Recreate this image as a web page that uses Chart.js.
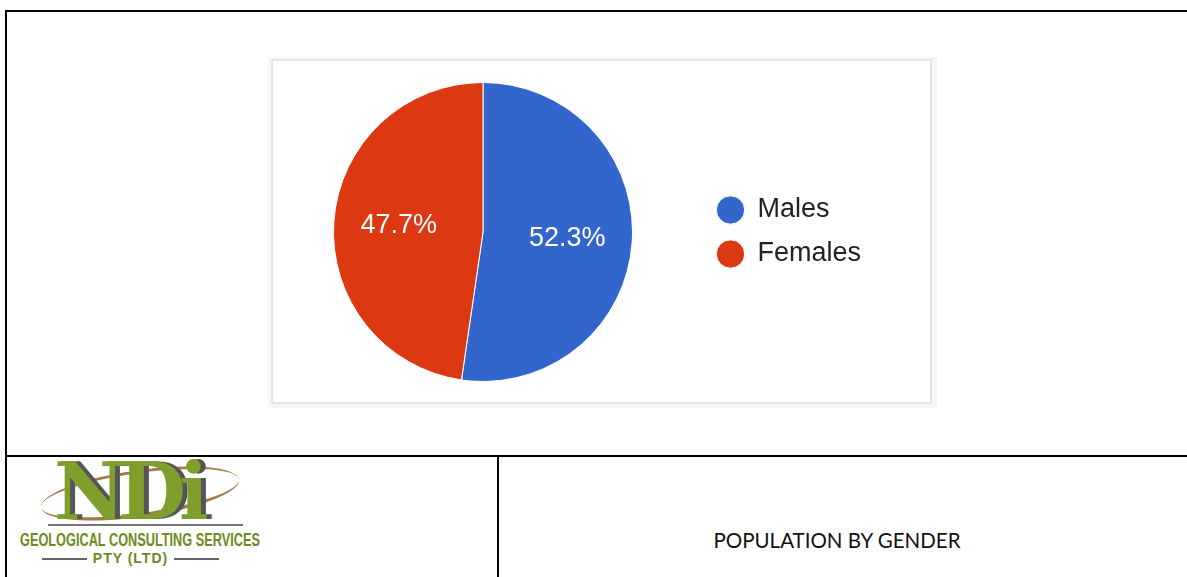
<!DOCTYPE html>
<html>
<head>
<meta charset="utf-8">
<title>Population by gender</title>
<script src="https://cdn.jsdelivr.net/npm/chart.js@4.4.1/dist/chart.umd.min.js"></script>
<style>
  body { margin: 0; background: #fff; width: 1187px; height: 577px; overflow: hidden; position: relative; }
  .line { position: absolute; background: #000; }
  #shade { position: absolute; left: 268px; top: 57px; width: 669px; height: 351px; background: #f6f6f6; }
  #frame { position: absolute; left: 271px; top: 59px; width: 657px; height: 341px; background: #fff; border: 2px solid #e4e4e4; }
  #wrap { position: absolute; left: 266px; top: 60px; width: 664px; height: 346px; }
  #title { position: absolute; left: 493px; width: 688px; top: 528px; text-align: center; font-family: Lato, "Open Sans", sans-serif; font-size: 20.5px; color: #111; }
  #logo { position: absolute; left: 18px; top: 458px; width: 245px; height: 115px; font-family: "Liberation Sans", sans-serif; }
  #ndi { position: absolute; left: 36px; top: -12px; font-family: "DejaVu Serif", serif; font-size: 78px; font-weight: bold; color: #7f9f2c; letter-spacing: -7px; text-shadow: 5px 0 0 #555; }
  #swoosh { position: absolute; left: 22px; top: 12px; width: 200px; height: 40px; border-radius: 50%; border-bottom: 4px solid #8a5a1a; border-top: 3px solid #8a5a1a; transform: rotate(-8deg); opacity: 0.8; }
  #rule { position: absolute; left: 30px; top: 66px; width: 195px; height: 2px; background: #777; }
  #geo { position: absolute; left: 2px; top: 71px; font-size: 19px; font-weight: bold; color: #6d8a22; white-space: nowrap; transform-origin: left; }
  #pty { position: absolute; left: 0; top: 92px; width: 225px; text-align: center; font-size: 14px; font-weight: bold; color: #6d8a22; letter-spacing: 1px; }
  #pty span.dash { display: inline-block; width: 45px; height: 2px; background: #666; vertical-align: middle; margin: 0 6px; }
</style>
</head>
<body>
<div class="line" style="left:5px; top:10px; width:1182px; height:2px;"></div>
<div class="line" style="left:5px; top:10px; width:2px; height:567px;"></div>
<div class="line" style="left:5px; top:455px; width:1182px; height:2px;"></div>
<div class="line" style="left:497px; top:455px; width:2px; height:122px;"></div>

<div id="shade"></div>
<div id="frame"></div>
<div id="wrap"><canvas id="myChart" width="664" height="346"></canvas></div>

<div id="logo">
  <div id="swoosh"></div>
  <div id="ndi">NDi</div>
  <div id="rule"></div>
  <div id="geo">GEOLOGICAL CONSULTING SERVICES</div>
  <div id="pty"><span class="dash"></span>PTY (LTD)<span class="dash"></span></div>
</div>
<div id="title">POPULATION BY GENDER</div>

<script>
var labels = ['Males', 'Females'];
var values = [52.3, 47.7];
var colors = ['#3366cc', '#dc3912'];

// squeeze the logo caption to its width
var geo = document.getElementById('geo');
geo.style.transform = 'scaleX(' + (240 / geo.scrollWidth) + ')';

// percentage text inside each slice
var sliceLabels = {
    id: 'sliceLabels',
    afterDatasetsDraw: function(chart) {
        var ctx = chart.ctx;
        var meta = chart.getDatasetMeta(0);
        var total = values.reduce(function(a, b) { return a + b; }, 0);
        ctx.save();
        ctx.fillStyle = '#fff';
        ctx.font = '27px "Liberation Sans", Arial, sans-serif';
        ctx.textAlign = 'center';
        ctx.textBaseline = 'middle';
        meta.data.forEach(function(arc, i) {
            var p = arc.getProps(['x', 'y', 'startAngle', 'endAngle', 'outerRadius'], true);
            var mid = (p.startAngle + p.endAngle) / 2;
            var r = p.outerRadius * 0.565;
            var txt = (values[i] / total * 100).toFixed(1) + '%';
            ctx.fillText(txt, p.x + Math.cos(mid) * r, p.y + Math.sin(mid) * r);
        });
        ctx.restore();
    }
};

var ctx = document.getElementById('myChart').getContext('2d');
var chart = new Chart(ctx, {
    type: 'pie',
    data: {
        labels: labels,
        datasets: [{
            data: values,
            backgroundColor: colors,
            borderColor: '#fff',
            borderWidth: 1
        }]
    },
    options: {
        responsive: false,
        animation: false,
        layout: { padding: { left: 0, top: 22, bottom: 24, right: 0 } },
        plugins: {
            tooltip: { enabled: false },
            legend: {
                position: 'right',
                labels: {
                    usePointStyle: true,
                    pointStyle: 'circle',
                    boxWidth: 28,
                    boxHeight: 20,
                    padding: 17,
                    color: '#222',
                    font: { family: '"Liberation Sans", Arial, sans-serif', size: 27 }
                }
            }
        }
    },
    plugins: [sliceLabels]
});

// pie area should be 434px wide so the legend starts where it does in the picture
var extra = 664 - 434 - chart.legend.width;
chart.options.layout.padding.right = Math.max(extra, 0);
chart.update();
</script>
</body>
</html>
